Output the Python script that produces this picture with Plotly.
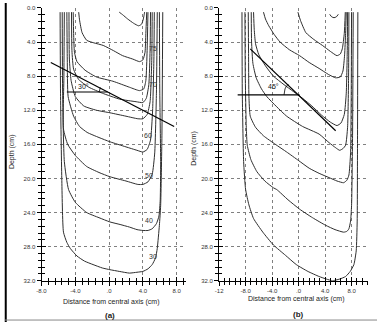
import plotly.graph_objects as go

W, H = 377, 325

# ---------------- data: panel (a), 30 degree wedge ----------------
a80_x = [1.2, 1.6, 2.2, 2.9, 3.5, 3.85, 4.05, 4.15, 4.2]
a80_d = [0.5, 0.8, 1.3, 1.8, 2.1, 1.9, 1.3, 0.8, 0.5]
a75_x = [-3.6, -3.5, -3.2, -2.65, -1.8, -0.7, 0.5, 1.6, 2.8, 3.6, 4.0, 4.25, 4.35, 4.45]
a75_d = [0.5, 1.4, 2.9, 3.8, 4.1, 4.4, 5.0, 5.6, 6.0, 6.3, 6.1, 5.2, 3.0, 0.5]
a70_x = [-4.25, -4.2, -4.1, -3.8, -2.85, -1.5, 0.45, 2.4, 3.6, 4.1, 4.35, 4.5, 4.6]
a70_d = [0.5, 3.0, 5.2, 6.3, 7.3, 8.1, 8.6, 9.3, 9.7, 9.5, 8.5, 5.0, 0.5]
a65_x = [-4.45, -4.4, -4.2, -3.6, -2.4, -0.8, 1.25, 3.2, 4.0, 4.4, 4.7, 4.85, 4.9]
a65_d = [0.5, 5.0, 7.2, 8.4, 9.3, 10.0, 10.7, 11.0, 11.1, 10.6, 9.0, 5.0, 0.5]
a62_x = [-4.75, -4.7, -4.5, -4.0, -3.0, -1.5, 0.1, 2.0, 3.4, 4.0, 4.5, 4.85, 5.05, 5.1]
a62_d = [0.5, 6.0, 8.5, 10.4, 11.5, 12.0, 12.3, 12.7, 13.0, 13.0, 12.5, 11.0, 6.0, 0.5]
a60_x = [-5.0, -4.95, -4.85, -4.2, -3.5, -2.6, -1.2, 0.1, 2.0, 3.3, 4.0, 4.5, 4.9, 5.15, 5.3, 5.35]
a60_d = [0.5, 6.0, 10.4, 12.7, 13.9, 14.6, 15.2, 15.7, 16.3, 16.7, 16.9, 16.6, 15.5, 12.0, 6.0, 0.5]
a50_x = [-5.3, -5.35, -5.4, -4.9, -4.0, -2.65, -1.2, 0.1, 2.0, 3.4, 4.0, 4.6, 5.1, 5.4, 5.6, 5.7]
a50_d = [0.5, 8.0, 14.2, 16.0, 17.3, 18.6, 19.3, 19.8, 20.3, 20.7, 20.7, 20.4, 19.5, 17.0, 10.0, 0.5]
a40_x = [-5.55, -5.5, -5.3, -4.8, -4.0, -2.65, -1.2, 0.1, 1.3, 2.4, 3.3, 4.0, 4.6, 5.1, 5.6, 5.9, 6.05, 6.1, 6.0, 5.95]
a40_d = [0.5, 10.0, 18.0, 21.3, 22.8, 24.0, 24.6, 25.1, 25.4, 25.7, 26.0, 26.1, 26.1, 25.9, 25.3, 24.4, 22.5, 18.0, 10.0, 0.5]
a30_x = [-5.8, -5.75, -5.6, -5.4, -5.0, -4.6, -3.8, -2.9, -1.9, -0.8, 0.1, 1.2, 2.4, 3.3, 4.0, 4.6, 5.1, 5.5, 5.7, 5.95, 6.1, 6.25, 6.35]
a30_d = [0.5, 10.0, 20.0, 26.3, 27.5, 28.2, 29.1, 29.7, 30.1, 30.5, 30.7, 30.9, 31.1, 31.0, 30.9, 30.6, 30.1, 29.3, 28.2, 25.5, 23.2, 15.0, 0.5]
a_curves_x = [a80_x, a75_x, a70_x, a65_x, a62_x, a60_x, a50_x, a40_x, a30_x]
a_curves_d = [a80_d, a75_d, a70_d, a65_d, a62_d, a60_d, a50_d, a40_d, a30_d]

a_label_text = ["75", "70", "60", "50", "40", "30"]
a_label_x = [5.15, 5.15, 4.6, 4.75, 4.75, 5.15]
a_label_d = [4.8, 9.0, 15.0, 19.6, 24.9, 29.2]

a_wedge_x = [-6.9, 7.7]
a_wedge_d = [6.4, 13.9]
a_horiz_x = [-5.0, -0.17]
a_horiz_d = [9.86, 9.86]
a_arc_x = [-1.17, -1.15, -1.13, -1.09, -1.04]
a_arc_d = [9.86, 9.72, 9.59, 9.46, 9.33]

# ---------------- data: panel (b), 45 degree wedge ----------------
b80_x = [4.7, 5.0, 5.35, 5.7, 6.0]
b80_d = [0.75, 1.05, 1.15, 1.05, 0.75]
b75_x = [-0.1, 0.3, 1.1, 2.3, 3.6, 4.8, 5.8, 6.3, 6.6, 6.9, 7.05]
b75_d = [0.5, 1.5, 2.9, 3.7, 4.4, 5.1, 5.6, 5.4, 4.8, 3.0, 0.5]
b70_x = [-5.3, -5.0, -4.5, -3.7, -2.8, -1.4, 0.15, 1.6, 3.1, 4.5, 5.6, 6.3, 6.7, 6.95, 7.1, 7.2]
b70_d = [0.5, 1.3, 2.1, 3.1, 4.0, 4.9, 5.6, 6.4, 7.1, 7.8, 8.2, 8.1, 7.4, 5.5, 3.0, 0.5]
b65_x = [-6.8, -6.7, -6.5, -6.0, -5.0, -3.8, -2.2, -0.8, 0.6, 2.0, 3.5, 4.8, 5.8, 6.4, 6.9, 7.2, 7.35, 7.4]
b65_d = [0.5, 2.5, 4.2, 5.5, 6.8, 8.0, 9.0, 9.8, 10.6, 11.5, 12.6, 13.4, 13.8, 13.5, 12.5, 10.0, 5.0, 0.5]
b60_x = [-7.15, -7.1, -6.9, -6.4, -5.6, -4.8, -3.3, -1.8, 0.6, 3.1, 4.6, 5.6, 6.2, 6.7, 7.1, 7.4, 7.55, 7.6]
b60_d = [0.5, 4.0, 6.5, 8.2, 9.5, 10.4, 11.6, 12.7, 13.9, 14.8, 15.8, 16.4, 16.7, 16.5, 16.1, 14.0, 8.0, 0.5]
b50_x = [-7.6, -7.55, -7.5, -7.3, -6.5, -5.3, -3.5, -1.8, 0.0, 1.6, 3.1, 4.6, 5.8, 6.8, 7.3, 7.6, 7.85, 7.95, 8.0]
b50_d = [0.5, 6.0, 10.4, 12.7, 14.0, 15.0, 16.0, 16.9, 17.9, 18.8, 19.4, 19.9, 20.3, 20.5, 20.2, 19.6, 17.0, 10.0, 0.5]
b40_x = [-8.1, -8.05, -7.9, -7.75, -7.2, -6.3, -5.1, -3.8, -3.3, -1.6, 0.15, 2.1, 4.1, 5.5, 6.8, 7.3, 7.6, 7.85, 8.0, 8.15, 8.25]
b40_d = [0.5, 8.0, 14.0, 16.1, 17.8, 19.2, 20.3, 21.1, 21.3, 22.5, 23.6, 24.6, 25.5, 26.0, 26.3, 26.2, 25.9, 25.0, 23.2, 15.0, 0.5]
b30_x = [-8.55, -8.5, -8.3, -8.0, -7.5, -6.8, -5.4, -3.8, -2.0, -0.35, 1.4, 3.1, 4.2, 5.1, 6.2, 7.1, 7.8, 8.35, 8.7, 8.85, 8.9, 8.95]
b30_d = [0.5, 10.0, 18.0, 21.3, 23.1, 24.7, 26.3, 27.8, 29.0, 30.1, 30.9, 31.5, 31.8, 32.0, 31.8, 31.5, 30.9, 30.1, 28.5, 25.0, 15.0, 0.5]
b_curves_x = [b80_x, b75_x, b70_x, b65_x, b60_x, b50_x, b40_x, b30_x]
b_curves_d = [b80_d, b75_d, b70_d, b65_d, b60_d, b50_d, b40_d, b30_d]

b_wedge_x = [-7.3, 5.6]
b_wedge_d = [4.8, 14.4]
b_horiz_x = [-9.2, 0.15]
b_horiz_d = [10.2, 10.2]
b_arc_x = [-2.2, -2.17, -2.05, -1.85, -1.55]
b_arc_d = [10.2, 9.85, 9.5, 9.2, 8.96]

# ---------------- axes tick labels ----------------
depth_vals = [0, 4, 8, 12, 16, 20, 24, 28, 32]
depth_text = ["0.0", "4.0", "8.0", "12.0", "16.0", "20.0", "24.0", "28.0", "32.0"]
a_xvals = [-8, -4, 0, 4, 8]
a_xtext = ["-8.0", "-4.0", ".0", "4.0", "8.0"]
b_xvals = [-12, -8, -4, 0, 4, 8]
b_xtext = ["-12", "-8.0", "-4.0", ".0", "4.0", "8.0"]

A_RANGE = [-8, 9.05]
B_RANGE = [-12, 10.5]
D_RANGE = [32, 0]

FONT = "Liberation Sans Narrow, Liberation Sans, Arial, sans-serif"
CURVE_COLOR = "#2e2e2e"

fig = go.Figure()


def add_curves(xs, ds, xa, ya):
    for cx, cd in zip(xs, ds):
        fig.add_trace(go.Scatter(x=cx, y=cd, mode="lines", xaxis=xa, yaxis=ya,
                                 line=dict(color=CURVE_COLOR, width=1, shape="spline", smoothing=0.5),
                                 showlegend=False, hoverinfo="skip"))


add_curves(a_curves_x, a_curves_d, "x", "y")
add_curves(b_curves_x, b_curves_d, "x2", "y2")

for (lx, ld, xa, ya, w) in [(a_wedge_x, a_wedge_d, "x", "y", 1.2), (a_horiz_x, a_horiz_d, "x", "y", 1.2),
                            (a_arc_x, a_arc_d, "x", "y", 0.8),
                            (b_wedge_x, b_wedge_d, "x2", "y2", 1.2), (b_horiz_x, b_horiz_d, "x2", "y2", 1.2),
                            (b_arc_x, b_arc_d, "x2", "y2", 0.8)]:
    fig.add_trace(go.Scatter(x=lx, y=ld, mode="lines", xaxis=xa, yaxis=ya,
                             line=dict(color="black", width=w), showlegend=False, hoverinfo="skip"))

# curve labels and angle labels as annotations in data coordinates
for t, lx, ld in zip(a_label_text, a_label_x, a_label_d):
    fig.add_annotation(text=t, x=lx, y=ld, xref="x", yref="y", showarrow=False,
                       font=dict(size=7, color="#333333", family=FONT))
fig.add_annotation(text="30°", x=-3.0, y=9.2, xref="x", yref="y", showarrow=False,
                   font=dict(size=7, color="#111111", family=FONT))
fig.add_annotation(text="45°", x=-3.8, y=9.2, xref="x2", yref="y2", showarrow=False,
                   font=dict(size=7, color="#111111", family=FONT))

# dummy traces for overlay (inside-tick) axes
fig.add_trace(go.Scatter(x=[None], y=[None], xaxis="x3", yaxis="y3", showlegend=False, hoverinfo="skip"))
fig.add_trace(go.Scatter(x=[None], y=[None], xaxis="x4", yaxis="y4", showlegend=False, hoverinfo="skip"))

DOM_A = [37 / W, 183 / W]
DOM_B = [217 / W, 368 / W]
DOM_Y = [1 - 283 / H, 1 - 5 / H]


def main_axis(domain, rng, vals, text, t0, anchor):
    return dict(domain=domain, range=rng, tickmode="array", tickvals=vals, ticktext=text,
                showgrid=True, gridcolor="#808080", griddash="dot", gridwidth=1,
                showline=True, linecolor="black", linewidth=1, zeroline=False,
                ticks="outside", ticklen=4, tickwidth=1, tickcolor="black",
                minor=dict(tickmode="linear", tick0=t0, dtick=0.8, ticks="outside", ticklen=3,
                           tickwidth=1, tickcolor="black", showgrid=False),
                tickfont=dict(size=6, color="#333", family=FONT), anchor=anchor, fixedrange=True)


def overlay_axis(over, rng, vals, t0, anchor, side):
    return dict(overlaying=over, range=rng, tickmode="array", tickvals=vals, showticklabels=False,
                showgrid=False, showline=False, zeroline=False, side=side,
                ticks="inside", ticklen=4, tickwidth=1, tickcolor="black",
                minor=dict(tickmode="linear", tick0=t0, dtick=0.8, ticks="inside", ticklen=3,
                           tickwidth=1, tickcolor="black", showgrid=False),
                anchor=anchor, fixedrange=True)


fig.update_layout(
    width=W, height=H, margin=dict(l=0, r=0, t=0, b=0),
    paper_bgcolor="white", plot_bgcolor="white",
    xaxis=main_axis(DOM_A, A_RANGE, a_xvals, a_xtext, -8, "y"),
    yaxis=main_axis(DOM_Y, D_RANGE, depth_vals, depth_text, 0, "x"),
    xaxis2=main_axis(DOM_B, B_RANGE, b_xvals, b_xtext, -12, "y2"),
    yaxis2=main_axis(DOM_Y, D_RANGE, depth_vals, depth_text, 0, "x2"),
    xaxis3=overlay_axis("x", A_RANGE, a_xvals, -8, "y3", "bottom"),
    yaxis3=overlay_axis("y", D_RANGE, depth_vals, 0, "x3", "left"),
    xaxis4=overlay_axis("x2", B_RANGE, b_xvals, -12, "y4", "bottom"),
    yaxis4=overlay_axis("y2", D_RANGE, depth_vals, 0, "x4", "left"),
    showlegend=False,
)


def px(xp, yp):
    return xp / W, 1 - yp / H


annos = [
    ("Depth (cm)", 7, 151, -90, 7),
    ("Depth (cm)", 192, 148, -90, 7),
    ("Distance from central axis (cm)", 107, 305, 0, 7),
    ("Distance from central axis (cm)", 295, 302, 0, 7),
    ("<b>(a)</b>", 106, 318, 0, 8),
    ("<b>(b)</b>", 297, 317, 0, 8),
]
for text, xp, yp, ang, size in annos:
    ax, ay = px(xp, yp)
    fig.add_annotation(text=text, x=ax, y=ay, xref="paper", yref="paper", showarrow=False,
                       textangle=ang, xanchor="center", yanchor="middle",
                       font=dict(size=size, color="#222", family=FONT))

fig.add_shape(type="line", xref="paper", yref="paper", x0=0.002, x1=0.002, y0=0, y1=1,
              line=dict(color="black", width=2))
fig.add_shape(type="line", xref="paper", yref="paper", x0=0, x1=1, y0=1 - 323 / H, y1=1 - 323 / H,
              line=dict(color="#888", width=1))

fig.write_html("out.html")
